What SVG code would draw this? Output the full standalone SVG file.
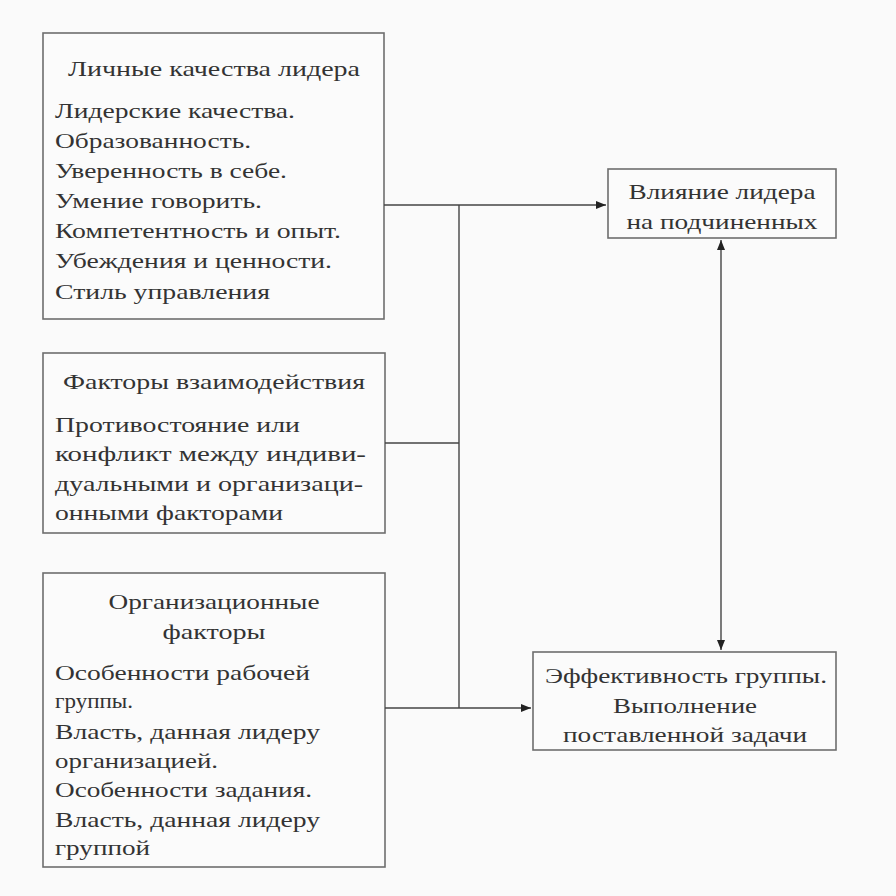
<svg xmlns="http://www.w3.org/2000/svg" width="896" height="896" viewBox="0 0 896 896">
<defs>
<style>
.box{fill:#fbfbfb;stroke:#6e6e6e;stroke-width:1.6}
.t{font-size:22px;fill:#333}
.c{text-anchor:middle}
.ln{stroke:#444;stroke-width:1.4;fill:none}
</style>
<marker id="ah" viewBox="0 0 10 10" refX="10" refY="5" markerWidth="10" markerHeight="10" markerUnits="userSpaceOnUse" orient="auto-start-reverse">
<path d="M0,1 L10,5 L0,9 z" fill="#222"/>
</marker>
</defs>
<rect width="896" height="896" fill="#fafafa"/>
<g font-family="Liberation Serif, serif">
<g id="n1">
<rect class="box" x="43" y="33" width="341" height="286"/>
<text class="t c" x="214" y="76" textLength="292" lengthAdjust="spacingAndGlyphs">Личные качества лидера</text>
<text class="t" x="55" y="118" textLength="240" lengthAdjust="spacingAndGlyphs">Лидерские качества.</text>
<text class="t" x="55" y="148" textLength="196" lengthAdjust="spacingAndGlyphs">Образованность.</text>
<text class="t" x="55" y="178" textLength="232" lengthAdjust="spacingAndGlyphs">Уверенность в себе.</text>
<text class="t" x="55" y="208" textLength="207" lengthAdjust="spacingAndGlyphs">Умение говорить.</text>
<text class="t" x="55" y="238" textLength="286" lengthAdjust="spacingAndGlyphs">Компетентность и опыт.</text>
<text class="t" x="55" y="268" textLength="277" lengthAdjust="spacingAndGlyphs">Убеждения и ценности.</text>
<text class="t" x="55" y="299" textLength="215" lengthAdjust="spacingAndGlyphs">Стиль управления</text>
</g>
<g id="n2">
<rect class="box" x="43" y="353" width="342" height="180"/>
<text class="t c" x="214" y="389" textLength="302" lengthAdjust="spacingAndGlyphs">Факторы взаимодействия</text>
<text class="t" x="55" y="432" textLength="245" lengthAdjust="spacingAndGlyphs">Противостояние или</text>
<text class="t" x="55" y="461" textLength="311" lengthAdjust="spacingAndGlyphs">конфликт между индиви-</text>
<text class="t" x="55" y="491" textLength="308" lengthAdjust="spacingAndGlyphs">дуальными и организаци-</text>
<text class="t" x="55" y="520" textLength="228" lengthAdjust="spacingAndGlyphs">онными факторами</text>
</g>
<g id="n3">
<rect class="box" x="43" y="573" width="342" height="294"/>
<text class="t c" x="214" y="609" textLength="211" lengthAdjust="spacingAndGlyphs">Организационные</text>
<text class="t c" x="214" y="639" textLength="103" lengthAdjust="spacingAndGlyphs">факторы</text>
<text class="t" x="55" y="680" textLength="255" lengthAdjust="spacingAndGlyphs">Особенности рабочей</text>
<text class="t" x="55" y="708" textLength="78" lengthAdjust="spacingAndGlyphs">группы.</text>
<text class="t" x="55" y="739" textLength="265" lengthAdjust="spacingAndGlyphs">Власть, данная лидеру</text>
<text class="t" x="55" y="768" textLength="163" lengthAdjust="spacingAndGlyphs">организацией.</text>
<text class="t" x="55" y="797" textLength="257" lengthAdjust="spacingAndGlyphs">Особенности задания.</text>
<text class="t" x="55" y="827" textLength="265" lengthAdjust="spacingAndGlyphs">Власть, данная лидеру</text>
<text class="t" x="55" y="855" textLength="95" lengthAdjust="spacingAndGlyphs">группой</text>
</g>
<g id="n4">
<rect class="box" x="608" y="169" width="228" height="69"/>
<text class="t c" x="722" y="199" textLength="187" lengthAdjust="spacingAndGlyphs">Влияние лидера</text>
<text class="t c" x="722" y="229" textLength="191" lengthAdjust="spacingAndGlyphs">на подчиненных</text>
</g>
<g id="n5">
<rect class="box" x="533" y="652" width="303" height="98"/>
<text class="t c" x="686" y="683" textLength="282" lengthAdjust="spacingAndGlyphs">Эффективность группы.</text>
<text class="t c" x="685" y="713" textLength="144" lengthAdjust="spacingAndGlyphs">Выполнение</text>
<text class="t c" x="685" y="742" textLength="244" lengthAdjust="spacingAndGlyphs">поставленной задачи</text>
</g>
</g>
<g id="connectors">
<line class="ln" x1="384" y1="205" x2="606" y2="205" marker-end="url(#ah)"/>
<line class="ln" x1="459" y1="205" x2="459" y2="708"/>
<line class="ln" x1="385" y1="443" x2="459" y2="443"/>
<line class="ln" x1="385" y1="708" x2="531" y2="708" marker-end="url(#ah)"/>
<line class="ln" x1="721" y1="240" x2="721" y2="650" marker-start="url(#ah)" marker-end="url(#ah)"/>
</g>
</svg>
